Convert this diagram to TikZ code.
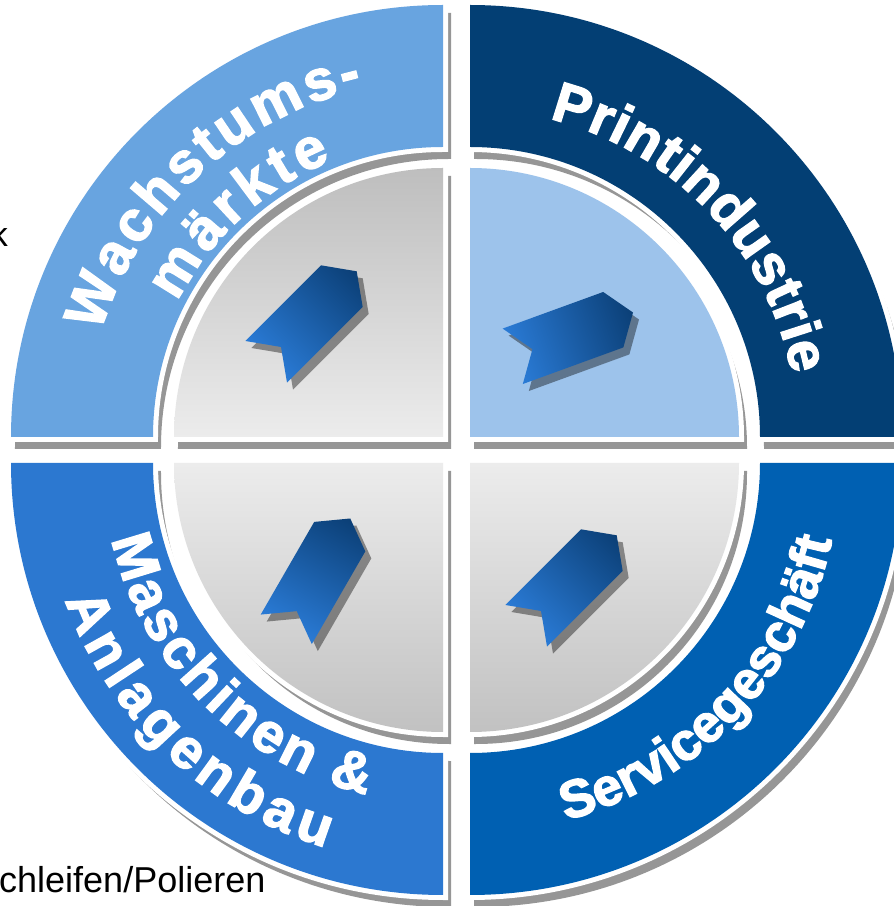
\documentclass[tikz,border=0pt]{standalone}
\usepackage{fontspec}
\setmainfont{Liberation Sans}
\newfontfamily\heavy{Liberation Sans}[BoldFeatures={FakeBold=2.5}]
\usetikzlibrary{decorations.text}
\definecolor{cTL}{HTML}{68A4E0}
\definecolor{cTR}{HTML}{033F74}
\definecolor{cBL}{HTML}{2C78D0}
\definecolor{cBR}{HTML}{0060B2}
\definecolor{cTRin}{HTML}{9DC3EB}
\definecolor{shad}{HTML}{969696}
\definecolor{tagA}{HTML}{2A7BD6}
\definecolor{tagB}{HTML}{0B3F76}
\definecolor{gDark}{HTML}{BEBEBE}
\definecolor{gLight}{HTML}{ECECEC}
\newcommand\tagpath{(-53.5,-29.5) -- (-32.5,0) -- (-53.5,29.5) -- (53.5,29.5) -- (74.5,0) -- (53.5,-29.5) -- cycle}
\tikzset{
  ringtext/.style={decorate, decoration={text along path, text align=fit to path, text color=white, text={#1}}},
}
\begin{document}
\begin{tikzpicture}[x=1pt,y=1pt]
\useasboundingbox (0,0) rectangle (894,906);
\clip (0,0) rectangle (894,906);
% shadows of outer segments and inner discs
\foreach \cx/\cy/\a in {443/469/90, 470/469/0, 443/443/180, 470/443/270}{
  \pgfmathsetmacro\b{\a+90}
  \pgfmathsetmacro\sx{\cx+6}
  \pgfmathsetmacro\sy{\cy-10}
  \path[fill=shad, draw=shad, line width=4]
    ([shift={(\sx,\sy)}]\a:290) -- ([shift={(\sx,\sy)}]\a:432)
    arc[start angle=\a, end angle=\b, radius=432]
    -- ([shift={(\sx,\sy)}]\b:290)
    arc[start angle=\b, end angle=\a, radius=290] -- cycle;
  \path[fill=shad, draw=shad, line width=4]
    (\sx,\sy) -- ([shift={(\sx,\sy)}]\a:269)
    arc[start angle=\a, end angle=\b, radius=269] -- cycle;
}
% white outlines
\foreach \cx/\cy/\a in {443/469/90, 470/469/0, 443/443/180, 470/443/270}{
  \pgfmathsetmacro\b{\a+90}
  \path[fill=white, draw=white, line width=10]
    ([shift={(\cx,\cy)}]\a:290) -- ([shift={(\cx,\cy)}]\a:432)
    arc[start angle=\a, end angle=\b, radius=432]
    -- ([shift={(\cx,\cy)}]\b:290)
    arc[start angle=\b, end angle=\a, radius=290] -- cycle;
  \path[fill=white, draw=white, line width=10]
    (\cx,\cy) -- ([shift={(\cx,\cy)}]\a:269)
    arc[start angle=\a, end angle=\b, radius=269] -- cycle;
}
% outer segments
\foreach \cx/\cy/\a/\col in {443/469/90/cTL, 470/469/0/cTR, 443/443/180/cBL, 470/443/270/cBR}{
  \pgfmathsetmacro\b{\a+90}
  \fill[\col]
    ([shift={(\cx,\cy)}]\a:290) -- ([shift={(\cx,\cy)}]\a:432)
    arc[start angle=\a, end angle=\b, radius=432]
    -- ([shift={(\cx,\cy)}]\b:290)
    arc[start angle=\b, end angle=\a, radius=290] -- cycle;
}
% inner discs
\shade[top color=gDark, bottom color=gLight] (443,469) -- (174,469) arc[start angle=180, end angle=90, radius=269] -- cycle;
\fill[cTRin] (470,469) -- (739,469) arc[start angle=0, end angle=90, radius=269] -- cycle;
\shade[top color=gLight, bottom color=gDark!95!white] (443,443) -- (174,443) arc[start angle=180, end angle=270, radius=269] -- cycle;
\shade[top color=gLight, bottom color=gDark!95!white] (470,443) -- (739,443) arc[start angle=0, end angle=-90, radius=269] -- cycle;
% tags
\foreach \x/\y/\ang in {304/582/45, 563/568/20, 313/323/60, 564/318/45}{
  \pgfmathsetmacro\sx{\x+6}
  \pgfmathsetmacro\sy{\y-7}
  \begin{scope}[transform canvas={shift={(\sx pt,\sy pt)}, rotate=\ang}]
    \fill[black, opacity=0.40] \tagpath;
  \end{scope}
  \begin{scope}[transform canvas={shift={(\x pt,\y pt)}, rotate=\ang}]
    \shade[left color=tagA, right color=tagB] \tagpath;
  \end{scope}
}
% ring texts
\path[ringtext={|\heavy\bfseries\fontsize{57}{60}\selectfont|Wachstums-}]
  ([shift={(443,469)}]163:358) arc[start angle=163, end angle=103, radius=358];
\path[ringtext={|\heavy\bfseries\fontsize{57}{60}\selectfont|märkte}]
  ([shift={(443,469)}]153:298) arc[start angle=153, end angle=112, radius=298];
\path[ringtext={|\heavy\bfseries\fontsize{56}{60}\selectfont|Printindustrie}]
  ([shift={(470,469)}]76:328) arc[start angle=76, end angle=11, radius=328];
\path[ringtext={|\heavy\bfseries\fontsize{56}{60}\selectfont|Maschinen {\&}}]
  ([shift={(443,443)}]193:340) arc[start angle=193, end angle=257, radius=340];
\path[ringtext={|\heavy\bfseries\fontsize{56}{60}\selectfont|Anlagenbau}]
  ([shift={(443,443)}]200:402) arc[start angle=200, end angle=253, radius=402];
\path[ringtext={|\heavy\bfseries\fontsize{53}{60}\selectfont|Servicegeschäft}]
  ([shift={(470,443)}]285:370) arc[start angle=285, end angle=348, radius=370];
% cut-off labels at the edge
\node[anchor=base east, inner sep=0, font=\fontsize{34}{36}\selectfont] (kLabel) at (8,659) {k};
\node[anchor=base west, inner sep=0, font=\fontsize{36}{38}\selectfont] (sLabel) at (-1,13) {chleifen/Polieren};
\end{tikzpicture}
\end{document}
